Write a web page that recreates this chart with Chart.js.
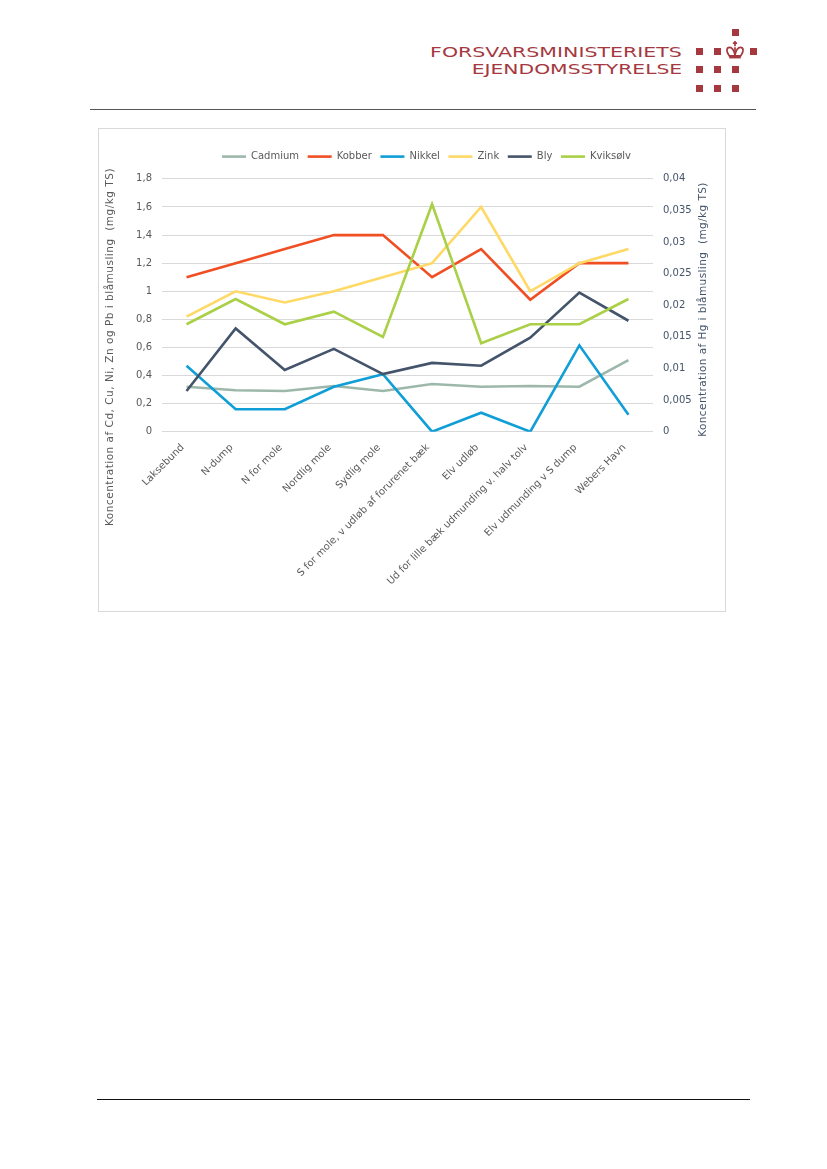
<!DOCTYPE html>
<html lang="da"><head><meta charset="utf-8">
<script src="https://cdn.jsdelivr.net/npm/chart.js@4"></script>
<style>
html,body{margin:0;padding:0;background:#fff;}
body{position:relative;width:827px;height:1169px;overflow:hidden;}
.abs{position:absolute;}
.logo{font-family:"DejaVu Sans";color:#a5393f;font-size:14px;line-height:14px;white-space:nowrap;right:145px;text-align:right;transform-origin:right center;}
.sq{position:absolute;width:7px;height:7px;background:#a5393f;}
#frame{position:absolute;left:98px;top:128px;width:626px;height:482px;border:1px solid #d9d9d9;box-sizing:content-box;}
canvas{display:block;}
</style></head><body>
<div class="abs logo" id="l1" style="top:45px;transform:scaleX(1.465)">FORSVARSMINISTERIETS</div>
<div class="abs logo" id="l2" style="top:62px;transform:scaleX(1.45)">EJENDOMSSTYRELSE</div>
<div id="sq"></div>
<svg class="abs" style="left:725px;top:40px" width="20" height="20" viewBox="0 0 19 19"><g fill="none" stroke="#a5393f" stroke-width="1.6"><path d="M9.500 1v5M7.500 3h4"/><path d="M4 15C1 11 1 7 4.500 7c3 0 4 3 5 7 1-4 2-7 5-7 3.500 0 3.500 4 .5 8z"/><path d="M9.500 7v7"/></g><rect x="4" y="15" width="11" height="2.500" fill="#a5393f"/></svg>
<div class="abs" style="left:90px;top:109px;width:666px;height:1px;background:#555"></div>
<div class="abs" style="left:97px;top:1099px;width:653px;height:1px;background:#111"></div>
<div id="frame"><canvas id="c" width="626" height="482" style="width:626px;height:482px"></canvas></div>
<script>
const categories=["Laksebund","N-dump","N for mole","Nordlig mole","Sydlig mole","S for mole, v udløb af forurenet bæk","Elv udløb","Ud for lille bæk udmunding v. halv tolv","Elv udmunding v S dump","Webers Havn"];
const cadmium=[0.32,0.295,0.29,0.325,0.29,0.34,0.32,0.325,0.32,0.51];
const kobber=[1.1,1.2,1.3,1.4,1.4,1.1,1.3,0.94,1.2,1.2];
const nikkel=[0.47,0.16,0.16,0.32,0.41,0,0.135,0,0.615,0.12];
const zink=[0.82,1.0,0.92,1.0,1.1,1.2,1.6,1.0,1.2,1.3];
const bly=[0.29,0.735,0.44,0.59,0.41,0.49,0.47,0.67,0.99,0.79];
const kviksolv=[0.017,0.021,0.017,0.019,0.015,0.036,0.014,0.017,0.017,0.021];
const leftTitle="Koncentration af Cd, Cu, Ni, Zn og Pb i blåmusling  (mg/kg TS)";
const rightTitle="Koncentration af Hg i blåmusling  (mg/kg TS)";
const seriesNames=["Cadmium","Kobber","Nikkel","Zink","Bly","Kviksølv"];
const seriesValues=[cadmium,kobber,nikkel,zink,bly,kviksolv];
const seriesColors=["#9db8ab","#f04e23","#0f9ed5","#ffd966","#44546a","#a9d046"];
const seriesAxes=["y","y","y","y","y","y2"];
const squares=[[735,32],[699,51],[717,51],[753,51],[699,69],[717,69],[735,69],[699,88],[717,88],[735,88]];
const sqBox=document.getElementById('sq');
squares.forEach(p=>{const d=document.createElement('div');d.className='sq';d.style.left=(p[0]-3.5)+'px';d.style.top=(p[1]-3.5)+'px';sqBox.appendChild(d);});
const font='"DejaVu Sans"';
const comma=v=>String(+Number(v).toFixed(3)).replace('.',',');
function vText(c,text,x,y,color,sp){c.save();c.font='10.5px '+font;c.letterSpacing=sp;c.textAlign='center';c.textBaseline='middle';c.fillStyle=color;c.translate(x,y);c.rotate(-Math.PI/2);c.fillText(text,0,0);c.restore();}
const titles={id:'axisTitles',
 beforeLayout(ch){const L=ch.legend;if(L&&!L._extra){L._extra=true;const f=L.fit;L.fit=function(){f.call(this);this.height+=7.3;};}},
 afterDraw(ch){vText(ch.ctx,leftTitle,11.5,218,'#595959','0.5px');vText(ch.ctx,rightTitle,604.5,180.5,'#44546a','0.42px');}};
new Chart(document.getElementById('c'),{type:'line',
 data:{labels:categories,datasets:seriesNames.map((n,i)=>({label:n,data:seriesValues[i],yAxisID:seriesAxes[i],borderColor:seriesColors[i],backgroundColor:seriesColors[i],borderWidth:2.6,pointRadius:0,tension:0,fill:false,order:6-i,borderJoinStyle:'miter'}))},
 plugins:[titles],
 options:{responsive:false,animation:false,devicePixelRatio:1,
  layout:{padding:{top:14,left:29,right:0,bottom:0}},
  plugins:{tooltip:{enabled:false},legend:{display:true,position:'top',labels:{sort:(a,b)=>a.datasetIndex-b.datasetIndex,usePointStyle:true,pointStyle:'line',pointStyleWidth:24,padding:8.6,color:'#595959',font:{family:font,size:10},boxHeight:10}}},
  scales:{
   x:{offset:true,grid:{display:false},border:{display:false},ticks:{autoSkip:false,minRotation:45,maxRotation:45,labelOffset:-4,color:'#595959',font:{family:font,size:10},padding:2},afterFit(s){s.height=179.3;}},
   y:{position:'left',min:0,max:1.8,grid:{color:'#d9d9d9',drawTicks:false},border:{display:false},ticks:{stepSize:0.2,padding:10,color:'#595959',font:{family:font,size:10},callback:comma},afterFit(s){s.width=34;}},
   y2:{position:'right',min:0,max:0.04,grid:{display:false},border:{display:false},ticks:{stepSize:0.005,padding:2,color:'#44546a',font:{family:font,size:10},callback:comma},afterFit(s){s.width=72;}}
  }}});
</script>
</body></html>
